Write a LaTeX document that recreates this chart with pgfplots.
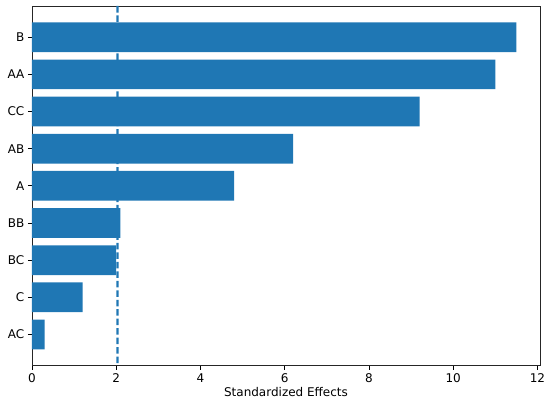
\documentclass[border=0pt]{standalone}
\usepackage{pgfplots}
\pgfplotsset{compat=1.18}
\usepackage{fontspec}
\setmainfont{DejaVu Sans}
\definecolor{c0}{HTML}{1F77B4}
\begin{document}
\begin{tikzpicture}
\begin{axis}[
  scale only axis,
  width=508pt, height=359.7pt,
  xmin=0, xmax=12.06,
  ymin=-0.84, ymax=8.84,
  xtick={0,2,4,6,8,10,12},
  ytick={0,1,2,3,4,5,6,7,8},
  yticklabels={AC,C,BC,BB,A,AB,CC,AA,B},
  tick align=outside,
  xtick pos=bottom, ytick pos=left,
  major tick length=4.2pt,
  tick style={line width=0.9pt, black},
  axis line style={line width=0.9pt, black!85},
  /pgf/number format/assume math mode=true,
  font=\fontsize{12}{14}\selectfont,
  xlabel={Standardized Effects},
  xlabel style={yshift=2pt},
  every tick label/.append style={font=\fontsize{12}{14}\selectfont},
]
\addplot[xbar, bar shift=0pt, bar width=0.8, fill=c0, draw=none] coordinates {
  (0.3,0) (1.2,1) (2.0,2) (2.1,3) (4.8,4) (6.2,5) (9.2,6) (11.0,7) (11.5,8)
};
\addplot[fill=c0, draw=none, mark=none, unbounded coords=jump] coordinates {
(2.005,8.840) (2.055,8.840) (2.055,8.665) (2.005,8.665) (nan,nan)
(2.005,8.585) (2.055,8.585) (2.055,8.410) (2.005,8.410) (nan,nan)
(2.005,8.330) (2.055,8.330) (2.055,8.155) (2.005,8.155) (nan,nan)
(2.005,8.075) (2.055,8.075) (2.055,7.900) (2.005,7.900) (nan,nan)
(2.005,7.820) (2.055,7.820) (2.055,7.645) (2.005,7.645) (nan,nan)
(2.005,7.565) (2.055,7.565) (2.055,7.390) (2.005,7.390) (nan,nan)
(2.005,7.310) (2.055,7.310) (2.055,7.135) (2.005,7.135) (nan,nan)
(2.005,7.055) (2.055,7.055) (2.055,6.880) (2.005,6.880) (nan,nan)
(2.005,6.800) (2.055,6.800) (2.055,6.625) (2.005,6.625) (nan,nan)
(2.005,6.545) (2.055,6.545) (2.055,6.370) (2.005,6.370) (nan,nan)
(2.005,6.290) (2.055,6.290) (2.055,6.115) (2.005,6.115) (nan,nan)
(2.005,6.035) (2.055,6.035) (2.055,5.860) (2.005,5.860) (nan,nan)
(2.005,5.780) (2.055,5.780) (2.055,5.605) (2.005,5.605) (nan,nan)
(2.005,5.525) (2.055,5.525) (2.055,5.350) (2.005,5.350) (nan,nan)
(2.005,5.270) (2.055,5.270) (2.055,5.095) (2.005,5.095) (nan,nan)
(2.005,5.015) (2.055,5.015) (2.055,4.840) (2.005,4.840) (nan,nan)
(2.005,4.760) (2.055,4.760) (2.055,4.585) (2.005,4.585) (nan,nan)
(2.005,4.505) (2.055,4.505) (2.055,4.330) (2.005,4.330) (nan,nan)
(2.005,4.250) (2.055,4.250) (2.055,4.075) (2.005,4.075) (nan,nan)
(2.005,3.995) (2.055,3.995) (2.055,3.820) (2.005,3.820) (nan,nan)
(2.005,3.740) (2.055,3.740) (2.055,3.565) (2.005,3.565) (nan,nan)
(2.005,3.485) (2.055,3.485) (2.055,3.310) (2.005,3.310) (nan,nan)
(2.005,3.230) (2.055,3.230) (2.055,3.055) (2.005,3.055) (nan,nan)
(2.005,2.975) (2.055,2.975) (2.055,2.800) (2.005,2.800) (nan,nan)
(2.005,2.720) (2.055,2.720) (2.055,2.545) (2.005,2.545) (nan,nan)
(2.005,2.465) (2.055,2.465) (2.055,2.290) (2.005,2.290) (nan,nan)
(2.005,2.210) (2.055,2.210) (2.055,2.035) (2.005,2.035) (nan,nan)
(2.005,1.955) (2.055,1.955) (2.055,1.780) (2.005,1.780) (nan,nan)
(2.005,1.700) (2.055,1.700) (2.055,1.525) (2.005,1.525) (nan,nan)
(2.005,1.445) (2.055,1.445) (2.055,1.270) (2.005,1.270) (nan,nan)
(2.005,1.190) (2.055,1.190) (2.055,1.015) (2.005,1.015) (nan,nan)
(2.005,0.935) (2.055,0.935) (2.055,0.760) (2.005,0.760) (nan,nan)
(2.005,0.680) (2.055,0.680) (2.055,0.505) (2.005,0.505) (nan,nan)
(2.005,0.425) (2.055,0.425) (2.055,0.250) (2.005,0.250) (nan,nan)
(2.005,0.170) (2.055,0.170) (2.055,-0.005) (2.005,-0.005) (nan,nan)
(2.005,-0.085) (2.055,-0.085) (2.055,-0.260) (2.005,-0.260) (nan,nan)
(2.005,-0.340) (2.055,-0.340) (2.055,-0.515) (2.005,-0.515) (nan,nan)
(2.005,-0.595) (2.055,-0.595) (2.055,-0.770) (2.005,-0.770)
};
\end{axis}
\pgfresetboundingbox
\path (current axis.south west) ++(-32pt,-41.3pt) coordinate (bl);
\path (current axis.north east) ++(10pt,6pt) coordinate (tr);
\path (bl) rectangle (tr);
\end{tikzpicture}
\end{document}
